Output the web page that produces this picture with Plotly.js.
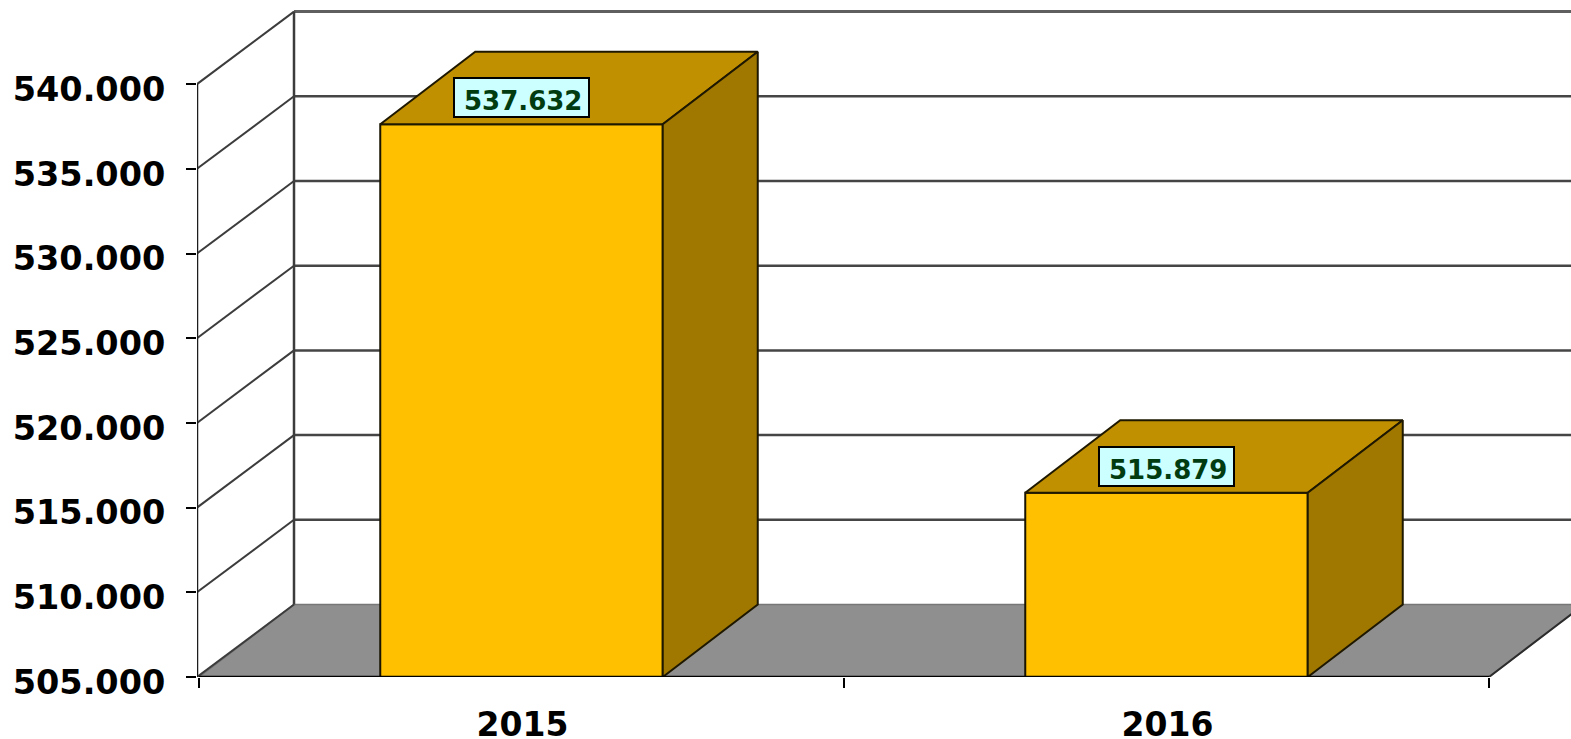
<!DOCTYPE html>
<html>
<head>
<meta charset="utf-8">
<script src="https://cdn.plot.ly/plotly-3.0.1.min.js"></script>
<style>html,body{margin:0;padding:0;background:#fff;overflow:hidden}#chart{width:1571px;height:739px}</style>
</head>
<body>
<div id="chart"></div>
<script>
const categories = ['2015', '2016'];
const values = [537632, 515879];
const valueLabels = ['537.632', '515.879'];
const yTicks = [505000, 510000, 515000, 520000, 525000, 530000, 535000, 540000];
const yTickLabels = ['505.000', '510.000', '515.000', '520.000', '525.000', '530.000', '535.000', '540.000'];

const W = 1571, H = 739, left = 197, bottom = 62;
const pxPerX = 645, pxPerY = 84.7 / 5000;
const xMin = -2 / pxPerX, xMax = xMin + (W - left) / pxPerX;
const yMin = yTicks[0], yMax = yMin + (H - bottom) / pxPerY;
const depthX = 95 / pxPerX, depthY = 72.5 / pxPerY;
const barWidth = 282.5 / pxPerX;
const yTop = yTicks[yTicks.length - 1];
const nCat = categories.length;

const centers = categories.map((c, i) => i + 0.5);

const traces = [{
  type: 'bar', x: centers, y: values.map(v => v - yMin), base: yMin, width: barWidth,
  marker: {color: '#ffc000', line: {color: '#1a1400', width: 2}}, showlegend: false
}];
values.forEach((v, i) => {
  const l = centers[i] - barWidth / 2, r = centers[i] + barWidth / 2;
  traces.push({
    type: 'scatter', mode: 'lines', fill: 'toself', fillcolor: '#c09000',
    x: [l, r, r + depthX, l + depthX, l], y: [v, v, v + depthY, v + depthY, v],
    line: {color: '#1f1800', width: 2}, showlegend: false
  });
  traces.push({
    type: 'scatter', mode: 'lines', fill: 'toself', fillcolor: '#a07800',
    x: [r, r + depthX, r + depthX, r, r], y: [yMin, yMin + depthY, v + depthY, v, yMin],
    line: {color: '#1f1800', width: 2}, showlegend: false
  });
});

const line = (x0, y0, x1, y1, color, width, layer) => ({
  type: 'line', xref: 'x', yref: 'y', x0, y0, x1, y1, layer: layer || 'below',
  line: {color, width}
});
const shapes = [{
  type: 'path', xref: 'x', yref: 'y', layer: 'below', fillcolor: '#8f8f8f',
  line: {color: '#777777', width: 1.5},
  path: `M0,${yMin} L${nCat},${yMin} L${nCat + depthX},${yMin + depthY} L${depthX},${yMin + depthY} Z`
}];
yTicks.forEach((t, i) => {
  shapes.push(line(xMin, t, depthX, t + depthY, '#3c3c3c', 2));
  if (i > 0) shapes.push(line(depthX, t + depthY, xMax, t + depthY, i === yTicks.length - 1 ? '#5f5f5f' : '#454545', i === yTicks.length - 1 ? 3 : 2.5));
});
shapes.push(line(depthX, yMin + depthY, depthX, yTop + depthY, '#3c3c3c', 2.5));
shapes.push(line(xMin, yMin, xMin, yTop, '#1c1c1c', 2.5));
shapes.push(line(0, yMin, nCat, yMin, '#000000', 2.5, 'above'));
shapes.push(line(nCat, yMin, nCat + depthX, yMin + depthY, '#2c2c2c', 2));

const boxes = values.map((v, i) => ({
  x: centers[i], y: v, xref: 'x', yref: 'y', yshift: 26.5, showarrow: false,
  text: '&nbsp;', width: 133, height: 37, borderpad: 0,
  bgcolor: '#ccffff', bordercolor: '#000000', borderwidth: 2,
  font: {family: 'DejaVu Sans', size: 26, color: '#003c10'}
}));
const labels = values.map((v, i) => ({
  x: centers[i], y: v, xref: 'x', yref: 'y', yshift: 23, xshift: 1, showarrow: false,
  text: '<b>' + valueLabels[i] + '</b>',
  font: {family: 'DejaVu Sans', size: 26, color: '#003c10'}
}));

const layout = {
  width: W, height: H, margin: {l: left, r: 0, t: 0, b: bottom, pad: 0},
  paper_bgcolor: '#ffffff', plot_bgcolor: 'rgba(0,0,0,0)', showlegend: false, hovermode: false,
  xaxis: {
    type: 'linear', range: [xMin, xMax], showgrid: false, zeroline: false, showline: false,
    tickmode: 'array', tickvals: centers, ticktext: categories, ticks: '', ticklabelstandoff: 25, ticklabelshift: 1,
    tickfont: {family: 'DejaVu Sans', size: 33, color: '#000000', weight: 'bold'},
    minor: {tickmode: 'array', tickvals: [0, 1, 2], ticks: 'outside', ticklen: 10, tickwidth: 2, tickcolor: '#000000', showgrid: false}
  },
  yaxis: {
    type: 'linear', range: [yMin, yMax], showgrid: false, zeroline: false, showline: false,
    tickmode: 'array', tickvals: yTicks, ticktext: yTickLabels,
    ticks: 'outside', ticklen: 10, tickwidth: 2, tickcolor: '#000000',
    ticklabelstandoff: 14, ticklabelshift: 5,
    tickfont: {family: 'DejaVu Sans', size: 33.5, color: '#000000', weight: 'bold'}
  },
  shapes, annotations: boxes.concat(labels)
};
Plotly.newPlot('chart', traces, layout, {displayModeBar: false, staticPlot: true});
</script>
</body>
</html>
